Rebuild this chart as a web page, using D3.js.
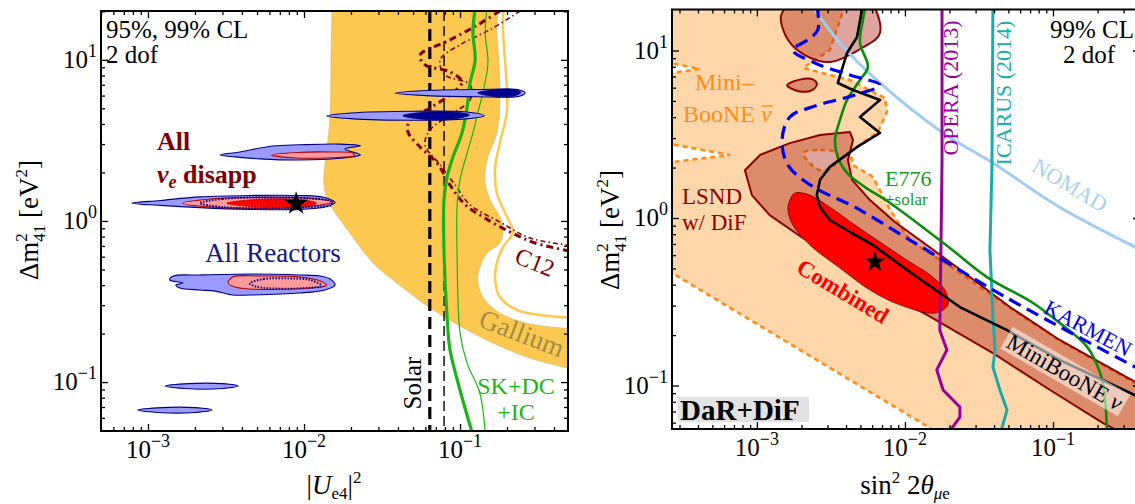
<!DOCTYPE html>
<html><head><meta charset="utf-8">
<script src="https://cdn.jsdelivr.net/npm/d3@7"></script>
<style>
html,body{margin:0;padding:0;background:#fff;}
svg{display:block;}
text{font-family:"Liberation Serif","Times New Roman",serif;}
</style></head><body>
<svg id="chart" width="1135" height="504"></svg>
<script>
// ================= LEFT PANEL DATA : |U_e4|^2 vs Δm^2_41 =================
const leftXTicks = [1e-3, 1e-2, 1e-1];
const leftYTicks = [0.1, 1, 10];
const galliumOuter = [[0.0151,22],[0.0151,20.1],[0.0149,10],[0.0147,4.43],[0.0140,2.76],[0.0134,1.8],[0.0138,1.45],[0.0147,1.26],[0.0165,1.06],[0.0197,0.842],[0.0236,0.66],[0.0294,0.518],[0.0394,0.412],[0.0632,0.292],[0.0901,0.236],[0.149,0.182],[0.268,0.143],[0.485,0.122],[0.59,0.115]];
const galliumInner = [[0.59,0.213],[0.457,0.216],[0.268,0.232],[0.18,0.268],[0.14,0.337],[0.13,0.43],[0.134,0.518],[0.149,0.633],[0.18,0.73],[0.189,0.879],[0.18,1.06],[0.156,1.35],[0.144,1.8],[0.151,2.5],[0.172,3.52],[0.18,5.64],[0.172,14.7],[0.163,22]];
const galliumLine = [[0.189,22],[0.189,14.7],[0.2,4.89],[0.18,3.05],[0.168,2.16],[0.172,1.49],[0.2,1.06],[0.219,0.855],[0.189,0.69],[0.172,0.548],[0.168,0.43],[0.18,0.337],[0.232,0.28],[0.326,0.261],[0.457,0.253],[0.59,0.253]];
const solarThick = 0.064;
const solarThin = 0.079;
const skThick = [[0.125,21],[0.121,14.7],[0.125,10],[0.116,7.2],[0.111,5.1],[0.103,3.52],[0.0901,2.5],[0.0826,1.88],[0.0789,1.35],[0.0789,0.66],[0.0826,0.253],[0.0863,0.158],[0.1,0.089],[0.12,0.048]];
const skThin = [[0.149,21],[0.145,14.7],[0.151,9.57],[0.14,6.24],[0.13,4.69],[0.121,3.52],[0.111,2.64],[0.1,1.8],[0.0957,1.22],[0.0957,0.66],[0.1,0.202],[0.111,0.131],[0.134,0.0855],[0.145,0.048]];
const c12A = [[0.18,20.1],[0.13,16.5],[0.0863,13.3],[0.0554,10.7],[0.0597,9.31],[0.0863,8.42],[0.103,7.3],[0.0863,6.06],[0.0642,5.03],[0.0478,4.24],[0.0464,3.57],[0.0554,2.88],[0.0712,2.29],[0.0863,1.67],[0.108,1.26],[0.145,1.04],[0.209,0.855],[0.303,0.73],[0.546,0.641]];
const c12B = [[0.243,20.1],[0.156,15.4],[0.1,12.4],[0.0745,10],[0.0801,8.07],[0.116,7.0],[0.116,5.64],[0.0863,4.55],[0.0642,3.67],[0.0597,2.97],[0.0745,2.23],[0.093,1.67],[0.116,1.26],[0.18,0.986],[0.281,0.784],[0.546,0.7]];
const blueTop = [[2.9e-3,2.57],[3.9e-3,2.68],[6.3e-3,2.92],[9.4e-3,2.97],[0.017,3.0],[0.023,2.93],[0.0183,2.8],[0.023,2.57],[0.017,2.45],[9.4e-3,2.39],[5.2e-3,2.43],[3.6e-3,2.5]];
const pinkTop = [[6.2e-3,2.56],[9e-3,2.66],[0.015,2.68],[0.0205,2.64],[0.021,2.55],[0.015,2.47],[9e-3,2.46]];
const blueMid = [[7.9e-4,1.29],[1.2e-3,1.34],[2.15e-3,1.41],[4.5e-3,1.44],[9.4e-3,1.44],[0.0136,1.4],[0.0158,1.3],[0.0136,1.22],[9.4e-3,1.18],[4.5e-3,1.18],[2.15e-3,1.21],[1.2e-3,1.25]];
const pinkMid = [[1.67e-3,1.29],[2.5e-3,1.37],[5e-3,1.4],[0.01,1.39],[0.0153,1.31],[0.01,1.22],[5e-3,1.2],[2.5e-3,1.22]];
const dotMid = [[2.15e-3,1.29],[3e-3,1.37],[6e-3,1.4],[0.011,1.38],[0.015,1.32],[0.015,1.26],[0.011,1.22],[6e-3,1.2],[3e-3,1.22]];
const redMid = [[3.2e-3,1.29],[4.5e-3,1.35],[8e-3,1.37],[0.0114,1.32],[0.012,1.29],[0.0114,1.25],[8e-3,1.22],[4.5e-3,1.23]];
const blueLow = [[1.45e-3,0.455],[2.15e-3,0.462],[4.5e-3,0.469],[9.4e-3,0.462],[0.0127,0.455],[0.0147,0.436],[0.0158,0.4],[0.0136,0.373],[9.4e-3,0.357],[4.5e-3,0.347],[3.5e-3,0.347],[2.7e-3,0.367],[2.15e-3,0.373],[1.6e-3,0.384],[1.51e-3,0.4],[1.68e-3,0.412],[1.38e-3,0.43]];
const pinkLow = [[3.26e-3,0.412],[3.5e-3,0.449],[5.2e-3,0.455],[9.4e-3,0.449],[0.0127,0.424],[0.0139,0.4],[0.0127,0.389],[8.1e-3,0.378],[4.5e-3,0.378],[3.6e-3,0.389]];
const dotLow = [[4.5e-3,0.41],[5.5e-3,0.436],[8e-3,0.44],[0.011,0.43],[0.013,0.395],[0.011,0.385],[7e-3,0.38],[5e-3,0.39]];
const blueSmall1 = [[1.29e-3,0.0944],[1.7e-3,0.0975],[3e-3,0.0978],[3.78e-3,0.0944],[3e-3,0.0912],[1.7e-3,0.0912]];
const blueSmall2 = [[8.6e-4,0.067],[1.15e-3,0.0692],[2e-3,0.0694],[2.57e-3,0.067],[2e-3,0.0647],[1.15e-3,0.0648]];
const blueHi1 = [[0.0383,6.2],[0.06,6.45],[0.13,6.55],[0.24,6.5],[0.261,6.24],[0.24,5.95],[0.13,5.9],[0.06,6.0]];
const navyHi1 = [[0.13,6.24],[0.16,6.5],[0.22,6.55],[0.245,6.28],[0.22,5.96],[0.16,5.95]];
const blueHi2 = [[0.014,4.49],[0.02,4.68],[0.05,4.8],[0.11,4.75],[0.143,4.5],[0.11,4.3],[0.05,4.22],[0.02,4.32]];
const navyHi2 = [[0.043,4.5],[0.055,4.7],[0.09,4.75],[0.115,4.55],[0.09,4.3],[0.055,4.3]];
const leftBestFit = [0.0089, 1.28];

// ================= RIGHT PANEL DATA : sin^2 2θ_μe vs Δm^2_41 =================
const rightXTicks = [1e-3, 1e-2, 1e-1];
const rightYTicks = [0.1, 1, 10];
const mbAnti = [[2.21e-4,0.517],[2.67e-4,0.47],[0.0201,0.0473],[0.419,0.0473],[0.419,0.095],[0.316,0.11],[0.111,0.185],[0.0512,0.29],[0.0201,0.517],[0.0126,0.671],[0.0108,0.739],[7.93e-3,1.12],[6.08e-3,1.76],[4.46e-3,2.07],[4.25e-3,2.48],[5.12e-3,2.8],[6.57e-3,3.26],[7.56e-3,4.3],[7.33e-3,5.2],[4.25e-3,6.67],[2.05e-3,7.87],[3.11e-3,10.07],[3.94e-3,18.7],[3.94e-3,25],[2.21e-4,25]];
const mbHole1 = [[2.39e-4,8.54],[4.12e-4,7.76],[2.39e-4,7.24]];
const mbHole2 = [[2.39e-4,2.8],[6.58e-4,2.38],[2.39e-4,2.13]];
const mbHole3 = [[2.05e-3,2.44],[2.67e-3,2.55],[3.47e-3,2.44],[3.27e-3,2.02],[2.67e-3,1.93],[2.28e-3,2.13]];
const lsndTop = [[1.45e-3,15.8],[1.6e-3,19],[1.67e-3,21],[5.4e-3,21],[6.78e-3,12.7],[5.12e-3,10.35],[3.11e-3,8.54],[2.11e-3,9.4],[1.62e-3,11.6]];
const lsndIsland = [[1.6e-3,6.2],[1.95e-3,6.7],[2.36e-3,6.75],[2.54e-3,6.3],[2.36e-3,5.8],[1.95e-3,5.7]];
const lsndMain = [[8.3e-4,1.93],[1.05e-3,2.38],[1.67e-3,2.8],[2.67e-3,3.13],[4.25e-3,3.26],[4.46e-3,2.92],[4.12e-3,2.22],[4.39e-3,1.69],[5.8e-3,1.28],[8.55e-3,0.947],[0.0126,0.739],[0.0201,0.546],[0.0512,0.294],[0.111,0.187],[0.316,0.112],[0.419,0.098],[0.419,0.0441],[0.218,0.0597],[0.0955,0.094],[0.0393,0.156],[0.0141,0.264],[6.78e-3,0.372],[3.64e-3,0.546],[1.95e-3,0.781],[1.22e-3,1.04],[9.25e-4,1.37]];
const combined = [[1.67e-3,1.28],[1.81e-3,1.41],[2.28e-3,1.37],[3.11e-3,1.16],[4.59e-3,0.908],[6.78e-3,0.719],[0.0108,0.546],[0.0148,0.457],[0.0186,0.372],[0.0195,0.303],[0.016,0.271],[9.25e-3,0.303],[5.8e-3,0.372],[3.64e-3,0.503],[2.28e-3,0.69],[1.75e-3,0.908],[1.62e-3,1.12]];
const mbNu = [[5.2e-3,18.7],[4.74e-3,12.0],[4.06e-3,9.66],[3.52e-3,6.4],[4.46e-3,5.81],[6.78e-3,5.06],[4.97e-3,4.01],[6.78e-3,3.22],[4.74e-3,2.65],[3.11e-3,2.02],[2.67e-3,1.69],[2.54e-3,1.37],[2.67e-3,1.16],[3.11e-3,0.973],[4.25e-3,0.825],[6.08e-3,0.69],[0.0108,0.476],[0.0235,0.294],[0.0489,0.214],[0.111,0.142],[0.419,0.082]];
const karmen = [[2.54e-3,18.7],[2.58e-3,13.3],[2.21e-3,11.6],[1.75e-3,10.07],[2.47e-3,8.42],[4.25e-3,7.14],[6.78e-3,6.22],[4.59e-3,5.42],[2.47e-3,4.66],[1.67e-3,4.01],[1.48e-3,2.92],[1.62e-3,2.07],[2.36e-3,1.55],[4.59e-3,1.16],[0.0108,0.739],[0.0393,0.372],[0.111,0.224],[0.419,0.12]];
const e776 = [[5.53e-3,20],[5.2e-3,15.2],[4.97e-3,11.1],[5.62e-3,7.97],[4.97e-3,6.67],[4.06e-3,5.06],[3.64e-3,3.85],[3.37e-3,2.92],[3.52e-3,2.31],[4.06e-3,1.86],[5.37e-3,1.53],[7.93e-3,1.23],[0.0201,0.662],[0.0358,0.444],[0.0733,0.311],[0.111,0.236],[0.17,0.17],[0.208,0.119],[0.224,0.0854],[0.232,0.0473]];
const nomad = [[2.21e-3,20],[3.64e-3,11.1],[6.78e-3,6.4],[0.0181,3.22],[0.0393,2.13],[0.111,1.16],[0.419,0.627]];
const opera = [[0.0178,20],[0.0178,2.22],[0.0175,0.644],[0.0172,0.214],[0.0192,0.163],[0.0164,0.124],[0.0181,0.094],[0.0235,0.0744],[0.0235,0.0648],[0.0192,0.0506]];
const icarus = [[0.0393,20],[0.0387,2.02],[0.0375,0.644],[0.0393,0.257],[0.0406,0.163],[0.0393,0.129],[0.0438,0.094],[0.0489,0.0714],[0.0438,0.0506]];
const rightBestFit = [6.27e-3, 0.546];

// ================= DRAWING =================
const svg = d3.select("#chart");
const defs = svg.append("defs");
const FS = 25, SUP = 18;

function makePanel(id, box, xd, yd) {
  const x = d3.scaleLog().domain(xd).range([box.l, box.r]);
  const y = d3.scaleLog().domain(yd).range([box.b, box.t]);
  defs.append("clipPath").attr("id", id).append("rect")
    .attr("x", box.l).attr("y", box.t).attr("width", box.r - box.l).attr("height", box.b - box.t);
  const g = svg.append("g").attr("clip-path", `url(#${id})`);
  return {x, y, g, box};
}
function shape(p, pts, curve, attrs) {
  const ln = d3.line().x(d => p.x(d[0])).y(d => p.y(d[1])).curve(curve);
  const path = p.g.append("path").attr("d", ln(pts));
  for (const k in attrs) path.attr(k, attrs[k]);
  return path;
}
const CR = d3.curveCatmullRomClosed.alpha(0.5);
const CRo = d3.curveCatmullRom.alpha(0.5);
const LC = d3.curveLinearClosed;
const LO = d3.curveLinear;

function powLabel(sel, v) {
  const e = Math.round(Math.log10(v));
  sel.text("10");
  sel.append("tspan").attr("dy", -11).attr("font-size", SUP).text(e < 0 ? "\u2212" + (-e) : String(e));
}
function drawAxes(p, xMaj, yMaj) {
  const {x, y, box} = p;
  const ax = svg.append("g").attr("class", "axes");
  const isMaj = (arr, v) => arr.some(m => Math.abs(m - v) / m < 1e-6);
  const xMin = x.ticks().filter(v => !isMaj(xMaj, v));
  const yMin = y.ticks().filter(v => !isMaj(yMaj, v));
  const mk = (fn, sc, vals, size, tr) => ax.append("g").attr("transform", tr)
    .call(fn(sc).tickValues(vals).tickSize(size).tickFormat(""))
    .call(s => { s.select(".domain").remove(); s.selectAll("line").attr("stroke-width", 1.3); });
  mk(d3.axisBottom, x, xMin, -4, `translate(0,${box.b})`);
  mk(d3.axisBottom, x, xMaj, -7, `translate(0,${box.b})`);
  mk(d3.axisTop, x, xMin, -4, `translate(0,${box.t})`);
  mk(d3.axisTop, x, xMaj, -7, `translate(0,${box.t})`);
  mk(d3.axisLeft, y, yMin, -4, `translate(${box.l},0)`);
  mk(d3.axisLeft, y, yMaj, -7, `translate(${box.l},0)`);
  mk(d3.axisRight, y, yMin, -4, `translate(${box.r},0)`);
  mk(d3.axisRight, y, yMaj, -7, `translate(${box.r},0)`);
  ax.append("rect").attr("x", box.l).attr("y", box.t).attr("width", box.r - box.l).attr("height", box.b - box.t)
    .attr("fill", "none").attr("stroke", "#000").attr("stroke-width", 2);
  xMaj.forEach(v => ax.append("text").attr("x", x(v)).attr("y", box.b + 27).attr("text-anchor", "middle")
    .attr("font-size", FS).call(powLabel, v));
  yMaj.forEach(v => ax.append("text").attr("x", box.l - 4).attr("y", y(v) + 8).attr("text-anchor", "end")
    .attr("font-size", FS).call(powLabel, v));
}
function txt(x, y, str, o = {}) {
  const t = svg.append("text").attr("x", x).attr("y", y).attr("font-size", o.size || FS)
    .attr("fill", o.fill || "#000").attr("text-anchor", o.anchor || "start").text(str);
  if (o.weight) t.attr("font-weight", o.weight);
  if (o.style) t.attr("font-style", o.style);
  if (o.family) t.attr("font-family", o.family);
  return t;
}
function rtxt(cx, cy, ang, str, o = {}) {
  const t = svg.append("text").attr("transform", `translate(${cx},${cy}) rotate(${ang})`)
    .attr("text-anchor", "middle").attr("dy", "0.35em").attr("font-size", o.size || FS)
    .attr("fill", o.fill || "#000").text(str);
  if (o.weight) t.attr("font-weight", o.weight);
  return t;
}
function ylabel(cx, cy) {
  const t = svg.append("text").attr("transform", `translate(${cx},${cy}) rotate(-90)`)
    .attr("text-anchor", "middle").attr("font-size", 27);
  t.append("tspan").text("\u0394m");
  t.append("tspan").attr("dy", -11).attr("font-size", 17).text("2");
  t.append("tspan").attr("dx", -8.5).attr("dy", 18).attr("font-size", 17).text("41");
  t.append("tspan").attr("dy", -7).text(" [eV");
  t.append("tspan").attr("dy", -11).attr("font-size", 17).text("2");
  t.append("tspan").attr("dy", 11).text("]");
}

// ---------- LEFT PANEL ----------
const L = makePanel("clipL", {l: 101, r: 568, t: 11, b: 431}, [5.0e-4, 0.492], [0.0497, 20.1]);
shape(L, galliumOuter.concat(galliumInner), CR, {fill: "#fcc850", stroke: "#d8b060", "stroke-width": 0.6});
shape(L, galliumLine, CRo, {fill: "none", stroke: "#fcc850", "stroke-width": 2.5});
L.g.append("line").attr("x1", L.x(solarThick)).attr("x2", L.x(solarThick)).attr("y1", L.box.t).attr("y2", L.box.b)
  .attr("stroke", "#000").attr("stroke-width", 3.2).attr("stroke-dasharray", "12,6");
L.g.append("line").attr("x1", L.x(solarThin)).attr("x2", L.x(solarThin)).attr("y1", L.box.t).attr("y2", L.box.b)
  .attr("stroke", "#000").attr("stroke-width", 1.4).attr("stroke-dasharray", "10,5");
shape(L, c12A, CRo, {fill: "none", stroke: "#800000", "stroke-width": 3, "stroke-dasharray": "7,4,2,4"});
shape(L, c12B, CRo, {fill: "none", stroke: "#800000", "stroke-width": 1.6, "stroke-dasharray": "5,3,1.5,3"});
shape(L, skThick, CRo, {fill: "none", stroke: "#1ab41a", "stroke-width": 3.2});
shape(L, skThin, CRo, {fill: "none", stroke: "#1ab41a", "stroke-width": 1.2});
const blueStyle = {fill: "#9b9bff", stroke: "#000080", "stroke-width": 1.1};
const pinkStyle = {fill: "#ff9a9a", stroke: "#b00000", "stroke-width": 1.1};
[blueTop, blueMid, blueLow, blueSmall1, blueSmall2, blueHi1, blueHi2].forEach(b => shape(L, b, CR, blueStyle));
[pinkTop, pinkMid, pinkLow].forEach(b => shape(L, b, CR, pinkStyle));
shape(L, redMid, CR, {fill: "#ff0000", stroke: "#cc0000", "stroke-width": 0.8});
[dotMid, dotLow].forEach(b => shape(L, b, CR, {fill: "none", stroke: "#000080", "stroke-width": 2, "stroke-dasharray": "1.5,1.5"}));
[navyHi1, navyHi2].forEach(b => shape(L, b, CR, {fill: "#000090", stroke: "#000070", "stroke-width": 0.8}));
L.g.append("path").attr("d", d3.symbol(d3.symbolStar).size(175)())
  .attr("transform", `translate(${L.x(leftBestFit[0])},${L.y(leftBestFit[1])})`).attr("fill", "#000");
drawAxes(L, leftXTicks, leftYTicks);

// left annotations
txt(106, 38, "95%, 99% CL");
txt(106, 63, "2 dof");
txt(157, 150, "All", {weight: "bold", fill: "#800000", size: 26});
{
  const t = txt(157, 183, "", {weight: "bold", fill: "#800000", size: 26});
  t.append("tspan").attr("font-style", "italic").text("\u03bd");
  t.append("tspan").attr("font-style", "italic").attr("font-size", 18).attr("dy", 5).text("e");
  t.append("tspan").attr("dy", -5).text(" disapp");
}
txt(205, 262, "All Reactors", {fill: "#15158a", size: 27});
rtxt(522, 333, 21, "Gallium", {fill: "#a08c46", size: 27});
rtxt(535, 262, 22, "C12", {fill: "#800000", size: 24});
svg.append("text").attr("transform", "translate(421,383) rotate(-90)").attr("text-anchor", "middle")
  .attr("font-size", 25).text("Solar");
txt(516, 394, "SK+DC", {fill: "#1ab41a", anchor: "middle", size: 24});
txt(516, 420, "+IC", {fill: "#1ab41a", anchor: "middle", size: 24});
ylabel(38, 220);
{
  const t = svg.append("text").attr("x", 334).attr("y", 494).attr("text-anchor", "middle").attr("font-size", 27);
  t.append("tspan").text("|");
  t.append("tspan").attr("font-style", "italic").text("U");
  t.append("tspan").attr("dy", 5).attr("font-size", 17).text("e4");
  t.append("tspan").attr("dy", -5).text("|");
  t.append("tspan").attr("dy", -11).attr("font-size", 17).text("2");
}

// ---------- RIGHT PANEL ----------
const R = makePanel("clipR", {l: 672, r: 1140, t: 9.5, b: 429}, [2.67e-4, 0.387], [0.055, 17.57]);
const dotOrange = {stroke: "#ff8c1a", "stroke-width": 2.6, "stroke-dasharray": "5,4"};
shape(R, mbAnti, LC, Object.assign({fill: "#fdd6aa"}, dotOrange));
[mbHole1, mbHole2].forEach(h => shape(R, h, LC, Object.assign({fill: "#fff"}, dotOrange)));
shape(R, mbHole3, CR, Object.assign({fill: "#fff"}, dotOrange));
const lsndStyle = {fill: "rgba(170,30,10,0.40)", stroke: "#8b0000", "stroke-width": 2, "stroke-linejoin": "round"};
shape(R, lsndTop, CR, lsndStyle);
shape(R, lsndIsland, CR, lsndStyle);
shape(R, lsndMain, LC, lsndStyle);
shape(R, combined, CR, {fill: "#ff0000", stroke: "#700000", "stroke-width": 0.8});
shape(R, nomad, CRo, {fill: "none", stroke: "#9fccf5", "stroke-width": 3});
shape(R, opera, LO, {fill: "none", stroke: "#990099", "stroke-width": 3, "stroke-linejoin": "round"});
shape(R, icarus, LO, {fill: "none", stroke: "#1aabab", "stroke-width": 3, "stroke-linejoin": "round"});
shape(R, e776, CRo, {fill: "none", stroke: "#0a8c0a", "stroke-width": 2.6});
shape(R, mbNu, LO, {fill: "none", stroke: "#000", "stroke-width": 2.6, "stroke-linejoin": "round"});
shape(R, karmen, CRo, {fill: "none", stroke: "#0000ee", "stroke-width": 3.2, "stroke-dasharray": "13,7"});
R.g.append("path").attr("d", d3.symbol(d3.symbolStar).size(140)())
  .attr("transform", `translate(${R.x(rightBestFit[0])},${R.y(rightBestFit[1])})`).attr("fill", "#000");
drawAxes(R, rightXTicks, rightYTicks);

// right annotations
txt(1050, 38, "99% CL");
txt(1063, 63, "2 dof");
txt(695, 90, "Mini\u2013", {fill: "#ff8c1a", size: 24});
{
  const t = txt(683, 122, "BooNE\u00a0", {fill: "#ff8c1a", size: 24});
  const nu = t.append("tspan").attr("font-style", "italic").text("\u03bd");
  const wAll = t.node().getComputedTextLength();
  const wNu = nu.node().getComputedTextLength();
  svg.append("line").attr("x1", 683 + wAll - wNu + 1).attr("x2", 683 + wAll + 1).attr("y1", 106).attr("y2", 106)
    .attr("stroke", "#ff8c1a").attr("stroke-width", 1.4);
}
txt(682, 204, "LSND", {fill: "#8b0000", size: 23});
txt(682, 230, "w/ DiF", {fill: "#8b0000", size: 23});
txt(885, 186, "E776", {fill: "#1a9a1a", size: 22});
txt(885, 205, "+solar", {fill: "#1a9a1a", size: 17});
rtxt(843, 291, 31, "Combined", {fill: "#ff0000", weight: "bold", size: 23});
rtxt(1070, 185, 31, "NOMAD", {fill: "#a8d0f8", size: 22});
rtxt(1088, 328, 28, "KARMEN", {fill: "#0000ee", size: 22});
{
  const g = svg.append("g").attr("transform", "translate(1065,372) rotate(30)");
  const t = g.append("text").attr("text-anchor", "middle").attr("dy", "0.35em").attr("font-size", 23).text("MiniBooNE ");
  t.append("tspan").attr("font-style", "italic").text("\u03bd");
  const w = t.node().getComputedTextLength();
  g.insert("rect", "text").attr("x", -w / 2 - 3).attr("y", -13).attr("width", w + 6).attr("height", 25)
    .attr("fill", "rgba(255,255,255,0.55)");
}
{
  svg.append("rect").attr("x", 678).attr("y", 397).attr("width", 131).attr("height", 25).attr("fill", "#e2e2e2");
  txt(680, 420, "DaR+DiF", {weight: "bold", family: "'Liberation Sans',Arial,sans-serif", size: 29});
}
svg.append("text").attr("transform", "translate(958,88) rotate(-90)").attr("text-anchor", "middle")
  .attr("font-size", 22).attr("fill", "#990099").text("OPERA (2013)");
svg.append("text").attr("transform", "translate(1011,93) rotate(-90)").attr("text-anchor", "middle")
  .attr("font-size", 22).attr("fill", "#1aabab").text("ICARUS (2014)");
ylabel(619, 230);
{
  const t = svg.append("text").attr("x", 905).attr("y", 494).attr("text-anchor", "middle").attr("font-size", 27);
  t.append("tspan").text("sin");
  t.append("tspan").attr("dy", -11).attr("font-size", 17).text("2");
  t.append("tspan").attr("dy", 11).text(" 2");
  t.append("tspan").attr("font-style", "italic").text("\u03b8");
  t.append("tspan").attr("dy", 5).attr("font-size", 17).attr("font-style", "italic").text("\u03bc");
  t.append("tspan").attr("font-size", 17).text("e");
}
</script>
</body></html>
